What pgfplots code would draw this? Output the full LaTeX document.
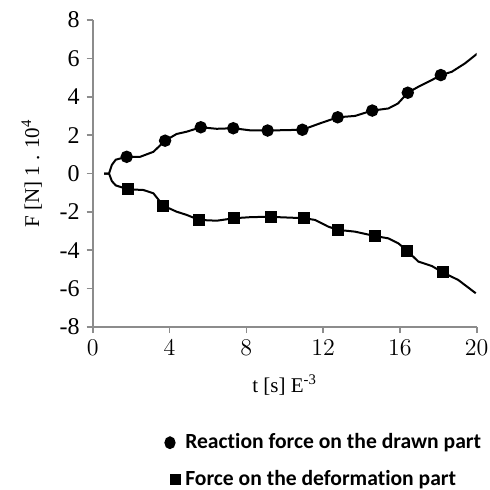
\documentclass[border=0pt]{standalone}
\usepackage{fontspec}
\setmainfont{Liberation Serif}
\newfontfamily\legfont[Ligatures=NoCommon]{Carlito}
\usepackage{pgfplots}
\pgfplotsset{compat=1.18}
\definecolor{axisgray}{HTML}{8C8C8C}

\begin{document}
\begin{tikzpicture}
\useasboundingbox (-46.35pt,-81.5pt) rectangle (198.65pt,163.5pt);
\begin{axis}[scale only axis,width=192pt,height=153.5pt,
 at={(0,0)},anchor=south west,
 xmin=0,xmax=20,ymin=-8,ymax=8,
 xtick={0,4,...,20},ytick={-8,-6,...,8},
 yticklabels={-8,-6,-4,-2,0,2,4,6,8},
 axis x line*=bottom,axis y line*=left,
 axis line style={axisgray,line width=0.8pt},
 tick style={axisgray,line width=0.8pt},tick align=outside,major tick length=3pt,
 tick label style={font=\fontsize{12}{14}\selectfont},
 label style={font=\fontsize{10.5}{12.5}\selectfont},
 xlabel={t [s] E\textsuperscript{-3}},ylabel={F [N] 1 . 10\textsuperscript{4}},
 xlabel style={yshift=-3pt},ylabel style={yshift=2pt},
 legend style={draw=none,fill=none,font=\legfont\bfseries\fontsize{10.8}{12.8}\selectfont,
  at={(0.17,-0.32)},anchor=north west,row sep=5.5pt},
 legend cell align=left]
\addplot[black,line width=1pt,mark=*,mark size=2.6pt,mark indices={5,8,11,13,15,16,18,20,23,26},
 legend image code/.code={\fill[black] (0.25cm,0cm) ellipse (2.3pt and 2.7pt);}]
 coordinates {(0.6,0) (0.85,0) (1.0,0.45) (1.2,0.72) (1.77,0.87) (2.47,0.87) (3.16,1.13) (3.77,1.71) (4.37,2.06) (4.9,2.18) (5.63,2.41) (6.46,2.33) (7.32,2.36) (8.2,2.25) (9.11,2.24) (10.92,2.28) (11.8,2.6) (12.76,2.93) (13.66,3.0) (14.56,3.28) (15.4,3.39) (15.9,3.65) (16.41,4.21) (16.96,4.52) (17.66,4.87) (18.13,5.13) (18.7,5.3) (19.39,5.74) (20.03,6.25)};
\addlegendentry{Reaction force on the drawn part}
\addplot[black,line width=1pt,mark=square*,mark size=2.5pt,mark indices={5,8,11,13,15,16,19,21,24,27},
 legend image code/.code={\fill[black] (0.35cm-2.3pt,-2.3pt) rectangle (0.35cm+2.3pt,2.3pt);}]
 coordinates {(0.6,0) (0.85,0) (1.0,-0.4) (1.2,-0.62) (1.82,-0.82) (2.64,-0.86) (3.16,-1.03) (3.68,-1.68) (4.37,-1.99) (4.9,-2.16) (5.55,-2.42) (6.46,-2.46) (7.38,-2.33) (8.3,-2.27) (9.27,-2.26) (11.02,-2.33) (11.58,-2.42) (12.27,-2.77) (12.79,-2.94) (13.66,-3.03) (14.70,-3.26) (15.4,-3.38) (15.92,-3.64) (16.39,-4.04) (16.96,-4.59) (17.66,-4.82) (18.23,-5.15) (19.04,-5.55) (19.95,-6.24)};
\addlegendentry{Force on the deformation part}
\end{axis}
\end{tikzpicture}
\end{document}
